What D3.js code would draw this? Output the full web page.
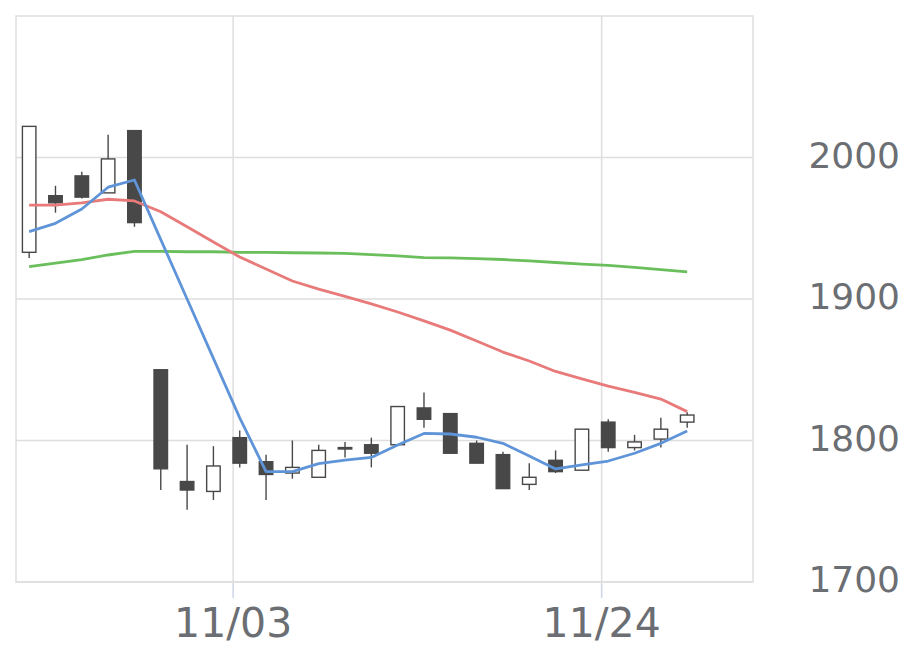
<!DOCTYPE html>
<html><head><meta charset="utf-8">
<script src="https://cdn.jsdelivr.net/npm/d3@7"></script>
<style>body{margin:0;background:#fff}svg{display:block}</style>
</head><body>
<script>
const dates = ["10/22","10/23","10/24","10/27","10/28","10/29","10/30","10/31","11/04","11/05","11/06","11/07","11/10","11/11","11/12","11/13","11/14","11/17","11/18","11/19","11/20","11/21","11/25","11/26","11/27","11/28"];
const open  = [1933,1973,1987,1975,2019,1850,1771,1764,1802,1785,1777,1774,1794,1797,1797,1823,1819,1798,1790,1769,1786,1779,1813,1795,1801,1813];
const close = [2022,1968,1972,1999,1954,1780,1765,1782,1784,1776,1781,1793,1795,1791,1824,1815,1791,1784,1766,1774,1778,1808,1795,1799,1808,1818];
const high  = [2022,1980,1990,2016,2019,1850,1797,1796,1807,1790,1800,1797,1799,1802,1824,1834,1819,1800,1792,1784,1793,1808,1815,1804,1816,1820];
const low   = [1929,1961,1971,1975,1951,1765,1751,1758,1781,1758,1773,1774,1788,1781,1797,1809,1791,1784,1766,1765,1777,1779,1792,1793,1795,1809];
const maShort = [1947.6,1953.5,1963.6,1979,1984.1,1942,1900,1858,1816,1778,1778,1783.7,1786.2,1788,1796.8,1805,1804.6,1802.3,1798,1789,1779.9,1782.7,1785.5,1791,1798,1806.7];
const maMid   = [1966.4,1966.4,1968,1970.5,1969.3,1961.7,1951,1940.3,1929.7,1921.2,1912.7,1907,1901.8,1896.5,1890.8,1884.5,1878,1870.3,1862.5,1856.2,1848.8,1843.5,1838.5,1834,1829.3,1820.4];
const maLong  = [1922.8,1925.4,1927.9,1931.1,1933.7,1933.6,1933.4,1933.4,1933,1932.9,1932.7,1932.5,1932.2,1931.4,1930.5,1929.3,1929,1928.6,1927.9,1926.9,1925.8,1924.7,1923.7,1922.3,1920.8,1919.1];
const xTickLabels = ["11/03","11/24"];
const xTickAfter = [7,21];   // tick sits between this candle and the next
const yTicks = [1700,1800,1900,2000];

const W=920,H=669;
const L=16,R=753,T=16,B=582;
const svg=d3.select("body").append("svg").attr("width",W).attr("height",H);
const x=d3.scaleLinear().domain([-0.5,27.5]).range([L,R]);
const y=d3.scaleLinear().domain([1700,2100]).range([B,T]);
const grid="#dedede";
const g=svg.append("g");
g.selectAll(".hg").data(yTicks).enter().append("line")
 .attr("x1",L).attr("x2",R).attr("y1",d=>y(d)).attr("y2",d=>y(d))
 .attr("stroke",grid).attr("stroke-width",1.5);
const tickPos = xTickAfter.map(i=>i+0.75);
g.selectAll(".vg").data(tickPos).enter().append("line")
 .attr("x1",d=>x(d)).attr("x2",d=>x(d)).attr("y1",T).attr("y2",B)
 .attr("stroke",grid).attr("stroke-width",1.5);
g.append("rect").attr("x",L).attr("y",T).attr("width",R-L).attr("height",B-T)
 .attr("fill","none").attr("stroke",grid).attr("stroke-width",1.5);
g.selectAll(".xt").data(tickPos).enter().append("line")
 .attr("x1",d=>x(d)).attr("x2",d=>x(d)).attr("y1",B+1).attr("y2",B+16)
 .attr("stroke","#cdd6e6").attr("stroke-width",1.5);
g.selectAll(".xl").data(tickPos).enter().append("text")
 .attr("x",d=>x(d)).attr("y",637).attr("text-anchor","middle")
 .attr("font-family","DejaVu Sans").attr("font-size",41).attr("fill","#6b6e72")
 .text((d,i)=>xTickLabels[i]);
g.selectAll(".yl").data(yTicks).enter().append("text")
 .attr("x",900).attr("y",d=>y(d)+10).attr("text-anchor","end")
 .attr("font-family","DejaVu Sans").attr("font-size",36).attr("fill","#6b6e72")
 .text(d=>d);
const idx=d3.range(dates.length);
const cw=13.5, dark="#484848";
const c=g.append("g");
c.selectAll(".wk").data(idx).enter().append("line")
 .attr("x1",i=>x(i)).attr("x2",i=>x(i)).attr("y1",i=>y(high[i])).attr("y2",i=>y(low[i]))
 .attr("stroke",dark).attr("stroke-width",1.4);
c.selectAll(".bd").data(idx).enter().append("rect")
 .attr("x",i=>x(i)-cw/2).attr("width",cw)
 .attr("y",i=>y(Math.max(open[i],close[i])))
 .attr("height",i=>Math.max(1,Math.abs(y(open[i])-y(close[i]))))
 .attr("fill",i=>close[i]<open[i]?dark:"#fff")
 .attr("stroke",dark).attr("stroke-width",1.4);
const line=(arr)=>d3.line().x((d,i)=>x(i)).y(d=>y(d))(arr);
[[maLong,"#6abf5c"],[maMid,"#e87a7a"],[maShort,"#5f95d8"]].forEach(([a,col])=>{
  g.append("path").attr("d",line(a)).attr("fill","none").attr("stroke",col)
   .attr("stroke-width",2.8).attr("stroke-linejoin","round");
});
</script>
</body></html>
